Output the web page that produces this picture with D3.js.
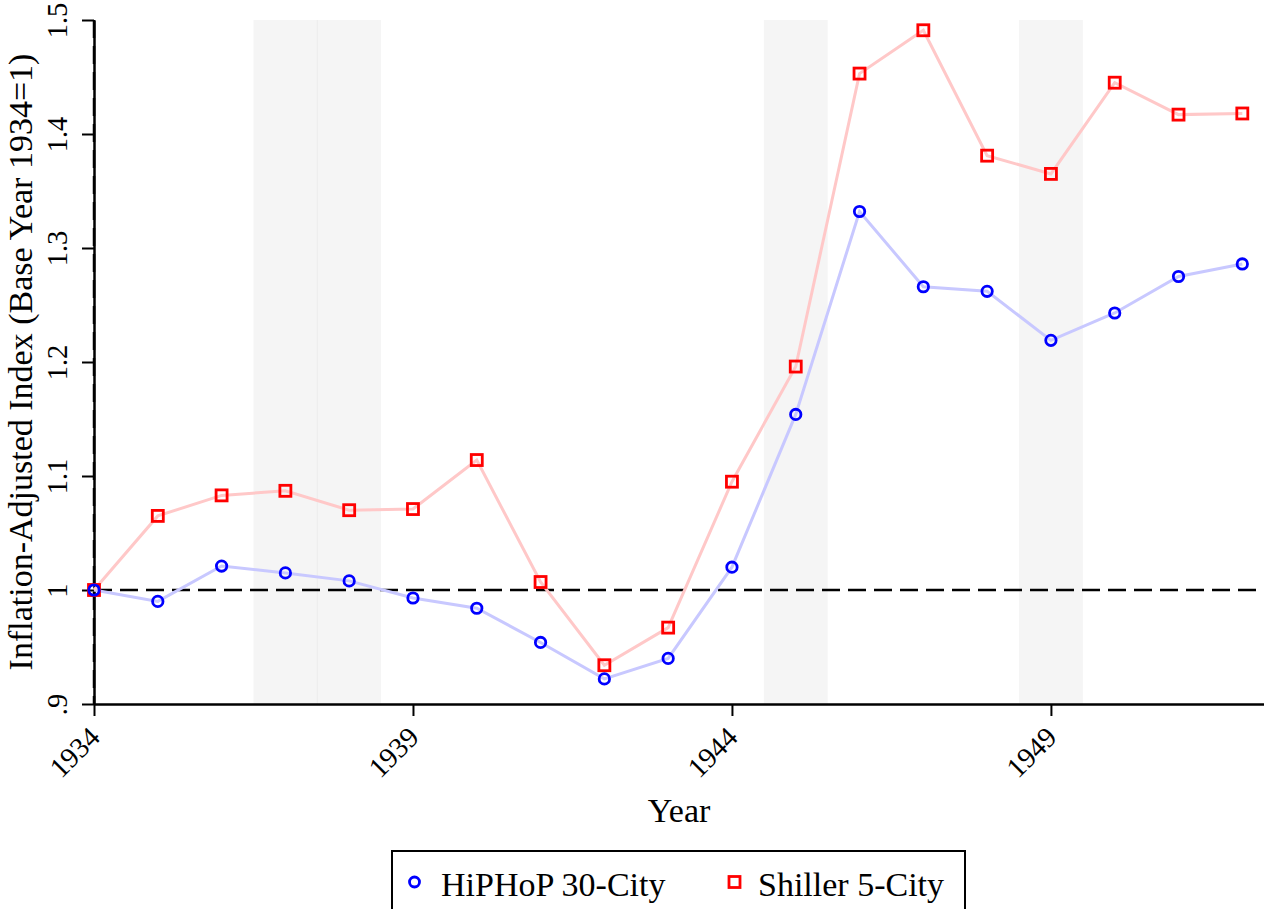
<!DOCTYPE html>
<html>
<head>
<meta charset="utf-8">
<script src="https://cdn.jsdelivr.net/npm/d3@7"></script>
<style>
  body { margin: 0; background: #fff; }
  svg { display: block; font-family: "Liberation Serif", "DejaVu Serif", serif; }
  svg text { font-family: "Liberation Serif", "DejaVu Serif", serif; }
</style>
</head>
<body>
<div class="chart"></div>
<script>
// Data
const years = [1934, 1935, 1936, 1937, 1938, 1939, 1940, 1941, 1942, 1943,
               1944, 1945, 1946, 1947, 1948, 1949, 1950, 1951, 1952];
const hiphop = [1.000, 0.990, 1.021, 1.015, 1.008, 0.993, 0.984, 0.954, 0.922, 0.940,
                1.020, 1.154, 1.332, 1.266, 1.262, 1.219, 1.243, 1.275, 1.286];
const shiller = [1.000, 1.065, 1.083, 1.087, 1.070, 1.071, 1.114, 1.007, 0.934, 0.967,
                 1.095, 1.196, 1.453, 1.491, 1.381, 1.365, 1.445, 1.417, 1.418];
const recessionYears = [1937, 1938, 1945, 1949];
const xTicks = [1934, 1939, 1944, 1949];
const yTicks = [0.9, 1.0, 1.1, 1.2, 1.3, 1.4, 1.5];
const seriesNames = ["HiPHoP 30-City", "Shiller 5-City"];

function createChart() {
    const margin = { top: 20, right: 0, bottom: 205, left: 94 };
    const width = 1264 - margin.left - margin.right;
    const height = 909 - margin.top - margin.bottom;

    const svgRoot = d3.select("div.chart").append("svg")
        .attr("width", 1264)
        .attr("height", 909);

    const svg = svgRoot.append("g")
        .attr("transform", `translate(${margin.left},${margin.top})`);

    // Scales
    const x = d3.scaleLinear().domain([1934, 1952.34]).range([0, width]);
    const y = d3.scaleLinear().domain([0.9, 1.5]).range([height, 0]);

    // Recession shading
    svg.selectAll(".shade")
        .data(recessionYears)
        .enter().append("rect")
        .attr("class", "shade")
        .attr("x", d => x(d - 0.5))
        .attr("width", d => x(d + 0.5) - x(d - 0.5))
        .attr("y", 0)
        .attr("height", height)
        .attr("fill", "#f5f5f5");
    // faint seam where two bands meet
    svg.append("line")
        .attr("x1", x(1937.5)).attr("x2", x(1937.5))
        .attr("y1", 0).attr("y2", height)
        .attr("stroke", "#ebebeb").attr("stroke-width", 1);

    // x-axis
    const xAxis = svg.append("g")
        .attr("transform", `translate(0,${height})`)
        .call(d3.axisBottom(x).tickValues(xTicks).tickFormat(d3.format("d")).tickSize(12).tickSizeOuter(0));
    xAxis.attr("font-family", null).attr("font-size", null);
    xAxis.select(".domain").attr("stroke", "#000").attr("stroke-width", 2.5);
    xAxis.selectAll(".tick line").attr("stroke", "#000").attr("stroke-width", 2);
    xAxis.selectAll(".tick text")
        .attr("y", 0).attr("dy", 0)
        .attr("transform", "translate(7,35) rotate(-45)")
        .attr("text-anchor", "end")
        .style("font-size", "28.5px")
        .attr("fill", "#000");

    // y-axis
    const yAxis = svg.append("g")
        .call(d3.axisLeft(y).tickValues(yTicks)
            .tickFormat(d => d === 1 ? "1" : d < 1 ? ".9" : d3.format(".1f")(d))
            .tickSize(12).tickSizeOuter(0));
    yAxis.attr("font-family", null).attr("font-size", null);
    yAxis.select(".domain").attr("stroke", "#000").attr("stroke-width", 2.5);
    yAxis.selectAll(".tick line").attr("stroke", "#000").attr("stroke-width", 2);
    yAxis.selectAll(".tick text")
        .attr("x", 0).attr("dy", 0)
        .attr("transform", "translate(-27,0) rotate(-90)")
        .attr("text-anchor", "middle")
        .style("font-size", "28.5px")
        .attr("fill", "#000");

    // Reference lines
    svg.append("line")
        .attr("x1", 0).attr("x2", width)
        .attr("y1", y(1)).attr("y2", y(1))
        .attr("stroke", "#000").attr("stroke-width", 2.5)
        .attr("stroke-dasharray", "18,8");
    svg.append("line")
        .attr("x1", x(1934)).attr("x2", x(1934))
        .attr("y1", 0).attr("y2", height)
        .attr("stroke", "#000").attr("stroke-width", 2.5)
        .attr("stroke-dasharray", "18,8");

    const line = d3.line()
        .x((d, i) => x(years[i]))
        .y(d => y(d));

    // Lines
    svg.append("path").datum(hiphop)
        .attr("d", line).attr("fill", "none")
        .attr("stroke", "#c8c8ff").attr("stroke-width", 3);
    svg.append("path").datum(shiller)
        .attr("d", line).attr("fill", "none")
        .attr("stroke", "#ffc8c8").attr("stroke-width", 3);

    // Markers
    svg.selectAll(".sq")
        .data(shiller)
        .enter().append("rect")
        .attr("class", "sq")
        .attr("x", (d, i) => x(years[i]) - 5.5)
        .attr("y", d => y(d) - 5.5)
        .attr("width", 11).attr("height", 11)
        .attr("fill", "none").attr("stroke", "#ff0000").attr("stroke-width", 2.8);
    svg.selectAll(".dot")
        .data(hiphop)
        .enter().append("circle")
        .attr("class", "dot")
        .attr("cx", (d, i) => x(years[i]))
        .attr("cy", d => y(d))
        .attr("r", 5.2)
        .attr("fill", "none").attr("stroke", "#0000ff").attr("stroke-width", 2.8);

    // Axis titles
    svg.append("text")
        .attr("transform", `translate(-62,${height / 2}) rotate(-90)`)
        .attr("text-anchor", "middle")
        .style("font-size", "34px")
        .text("Inflation-Adjusted Index (Base Year 1934=1)");
    svg.append("text")
        .attr("x", width / 2).attr("y", height + 118)
        .attr("text-anchor", "middle")
        .style("font-size", "34px")
        .text("Year");

    // Legend
    const legend = svgRoot.append("g").attr("transform", "translate(392,851)");
    legend.append("rect")
        .attr("width", 573).attr("height", 80)
        .attr("fill", "#fff").attr("stroke", "#000").attr("stroke-width", 2);
    legend.append("circle")
        .attr("cx", 22.5).attr("cy", 31).attr("r", 5)
        .attr("fill", "none").attr("stroke", "#0000ff").attr("stroke-width", 2.8);
    legend.append("text")
        .attr("x", 49).attr("y", 45).style("font-size", "34px")
        .text(seriesNames[0]);
    legend.append("rect")
        .attr("x", 337).attr("y", 25.5).attr("width", 11).attr("height", 11)
        .attr("fill", "none").attr("stroke", "#ff0000").attr("stroke-width", 2.8);
    legend.append("text")
        .attr("x", 366).attr("y", 45).style("font-size", "34px")
        .text(seriesNames[1]);
}

createChart();
</script>
</body>
</html>
